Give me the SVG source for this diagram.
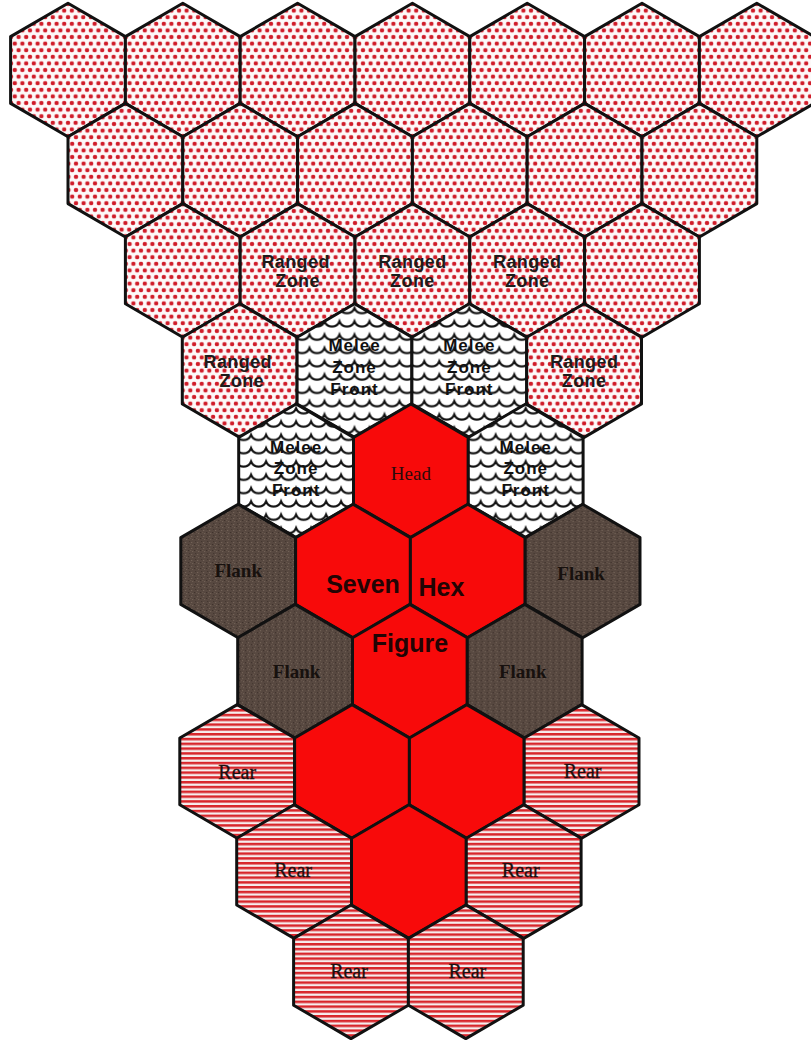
<svg xmlns="http://www.w3.org/2000/svg" xmlns:xlink="http://www.w3.org/1999/xlink" width="811" height="1044" viewBox="0 0 811 1044">
  <defs>
    <path id="hex" d="M0,-66.8 L57.4,-33.4 L57.4,33.4 L0,66.8 L-57.4,33.4 L-57.4,-33.4 Z"/>
    <pattern id="dots" width="7.6" height="13.2" patternUnits="userSpaceOnUse">
      <rect width="7.6" height="13.2" fill="#fdf9f9"/>
      <g fill="#d01d2a">
        <circle cx="0" cy="0" r="2.2"/>
        <circle cx="7.6" cy="0" r="2.2"/>
        <circle cx="0" cy="13.2" r="2.2"/>
        <circle cx="7.6" cy="13.2" r="2.2"/>
        <circle cx="3.8" cy="6.6" r="2.2"/>
      </g>
    </pattern>
    <pattern id="waves" width="15" height="13.3" patternUnits="userSpaceOnUse">
      <rect width="15" height="13.3" fill="#ffffff"/>
      <path d="M-15,4 A8,8 0 0 0 0,4 A8,8 0 0 0 15,4 A8,8 0 0 0 30,4" fill="none" stroke="#111" stroke-width="2.2"/>
    </pattern>
    <pattern id="stripes" width="10" height="4.8" patternUnits="userSpaceOnUse">
      <rect width="10" height="4.8" fill="#f6eeee"/>
      <rect width="10" height="2.5" fill="#d8262b"/>
    </pattern>
    <pattern id="speck" width="6" height="6" patternUnits="userSpaceOnUse">
      <rect width="6" height="6" fill="#574840"/>
      <rect x="1" y="1" width="1" height="1" fill="#7a695d"/>
      <rect x="4" y="3" width="1" height="1" fill="#3a2e28"/>
      <rect x="2" y="4" width="1" height="1" fill="#76665a"/>
      <rect x="5" y="0" width="1" height="1" fill="#40342d"/>
      <rect x="0" y="3" width="1" height="1" fill="#6a5a4f"/>
    </pattern>
  </defs>
  <style>
    .h { stroke: #111; stroke-width: 3; stroke-linejoin: round; }
    .dot { fill: url(#dots); }
    .wav { fill: url(#waves); }
    .str { fill: url(#stripes); }
    .brn { fill: url(#speck); }
    .red { fill: #f80a0a; }
    .rz { font-family: "Liberation Sans", Arial, sans-serif; font-weight: bold; font-size: 18px; fill: #1c1c1c; text-anchor: middle; letter-spacing: 0.4px; }
    .mz { font-family: "Liberation Sans", Arial, sans-serif; font-weight: bold; font-size: 17px; fill: #111; text-anchor: middle; letter-spacing: 1px; }
    .big { font-family: "Liberation Sans", Arial, sans-serif; font-weight: bold; font-size: 25px; fill: #220404; text-anchor: middle; }
    .hd { font-family: "Liberation Serif", "Times New Roman", serif; font-size: 19px; fill: #2b0a0a; text-anchor: middle; }
    .fl { font-family: "Liberation Serif", "Times New Roman", serif; font-weight: bold; font-size: 19px; fill: #17110e; text-anchor: middle; }
    .rr { font-family: "Liberation Serif", "Times New Roman", serif; font-size: 20px; fill: #1a1010; text-anchor: middle; stroke: #1a1010; stroke-width: 0.3; }
  </style>
  <rect width="811" height="1044" fill="#ffffff"/>
  <g id="connectors"></g>

  <!-- Row 0 -->
  <g id="r0c0" transform="translate(68,70)"><use href="#hex" class="h dot"/></g>
  <g id="r0c2" transform="translate(182.8,70)"><use href="#hex" class="h dot"/></g>
  <g id="r0c4" transform="translate(297.6,70)"><use href="#hex" class="h dot"/></g>
  <g id="r0c6" transform="translate(412.4,70)"><use href="#hex" class="h dot"/></g>
  <g id="r0c8" transform="translate(527.2,70)"><use href="#hex" class="h dot"/></g>
  <g id="r0c10" transform="translate(642,70)"><use href="#hex" class="h dot"/></g>
  <g id="r0c12" transform="translate(756.8,70)"><use href="#hex" class="h dot"/></g>

  <!-- Row 1 -->
  <g id="r1c1" transform="translate(125.4,170.2)"><use href="#hex" class="h dot"/></g>
  <g id="r1c3" transform="translate(240.2,170.2)"><use href="#hex" class="h dot"/></g>
  <g id="r1c5" transform="translate(355,170.2)"><use href="#hex" class="h dot"/></g>
  <g id="r1c7" transform="translate(469.8,170.2)"><use href="#hex" class="h dot"/></g>
  <g id="r1c9" transform="translate(584.6,170.2)"><use href="#hex" class="h dot"/></g>
  <g id="r1c11" transform="translate(699.4,170.2)"><use href="#hex" class="h dot"/></g>

  <!-- Row 2 -->
  <g id="r2c2" transform="translate(182.8,270.4)"><use href="#hex" class="h dot"/></g>
  <g id="r2c4" transform="translate(297.6,270.4)"><use href="#hex" class="h dot"/>
    <text class="rz" x="-2" y="-2">Ranged</text><text class="rz" x="0" y="17">Zone</text></g>
  <g id="r2c6" transform="translate(412.4,270.4)"><use href="#hex" class="h dot"/>
    <text class="rz" x="0" y="-2">Ranged</text><text class="rz" x="0" y="17">Zone</text></g>
  <g id="r2c8" transform="translate(527.2,270.4)"><use href="#hex" class="h dot"/>
    <text class="rz" x="0" y="-2">Ranged</text><text class="rz" x="0" y="17">Zone</text></g>
  <g id="r2c10" transform="translate(642,270.4)"><use href="#hex" class="h dot"/></g>

  <!-- Row 3 -->
  <g id="r3c3" transform="translate(239.7,370.6)"><use href="#hex" class="h dot"/>
    <text class="rz" x="-2" y="-3">Ranged</text><text class="rz" x="2" y="16">Zone</text></g>
  <g id="r3c5" transform="translate(354.5,370.6)"><use href="#hex" class="h wav"/>
    <text class="mz" x="0" y="-20">Melee</text><text class="mz" x="0" y="2">Zone</text><text class="mz" x="0" y="24">Front</text></g>
  <g id="r3c7" transform="translate(469.3,370.6)"><use href="#hex" class="h wav"/>
    <text class="mz" x="0" y="-20">Melee</text><text class="mz" x="0" y="2">Zone</text><text class="mz" x="0" y="24">Front</text></g>
  <g id="r3c9" transform="translate(584.1,370.6)"><use href="#hex" class="h dot"/>
    <text class="rz" x="0" y="-3">Ranged</text><text class="rz" x="0" y="16">Zone</text></g>

  <!-- Row 4 -->
  <g id="r4c4" transform="translate(296.1,470.8)"><use href="#hex" class="h wav"/>
    <text class="mz" x="0" y="-18">Melee</text><text class="mz" x="0" y="3">Zone</text><text class="mz" x="0" y="25">Front</text></g>
  <g id="r4c6" transform="translate(410.9,470.8)"><use href="#hex" class="h red"/>
    <text class="hd" x="0" y="9">Head</text></g>
  <g id="r4c8" transform="translate(525.7,470.8)"><use href="#hex" class="h wav"/>
    <text class="mz" x="0" y="-18">Melee</text><text class="mz" x="0" y="3">Zone</text><text class="mz" x="0" y="25">Front</text></g>

  <!-- Row 5 -->
  <g id="r5c3" transform="translate(238.2,571)"><use href="#hex" class="h brn"/>
    <text class="fl" x="0" y="6">Flank</text></g>
  <g id="r5c5" transform="translate(353,571)"><use href="#hex" class="h red"/></g>
  <g id="r5c7" transform="translate(467.8,571)"><use href="#hex" class="h red"/></g>
  <g id="r5c9" transform="translate(582.6,571)"><use href="#hex" class="h brn"/>
    <text class="fl" x="-1.5" y="9">Flank</text></g>

  <!-- Row 6 -->
  <g id="r6c4" transform="translate(295.1,671.2)"><use href="#hex" class="h brn"/>
    <text class="fl" x="1.5" y="7">Flank</text></g>
  <g id="r6c6" transform="translate(409.9,671.2)"><use href="#hex" class="h red"/></g>
  <g id="r6c8" transform="translate(524.7,671.2)"><use href="#hex" class="h brn"/>
    <text class="fl" x="-2" y="7">Flank</text></g>

  <!-- Row 7 -->
  <g id="r7c3" transform="translate(237.2,771.4)"><use href="#hex" class="h str"/>
    <text class="rr" x="0" y="7.5">Rear</text></g>
  <g id="r7c5" transform="translate(352,771.4)"><use href="#hex" class="h red"/></g>
  <g id="r7c7" transform="translate(466.8,771.4)"><use href="#hex" class="h red"/></g>
  <g id="r7c9" transform="translate(581.6,771.4)"><use href="#hex" class="h str"/>
    <text class="rr" x="1" y="6.5">Rear</text></g>

  <!-- Row 8 -->
  <g id="r8c4" transform="translate(294.1,871.6)"><use href="#hex" class="h str"/>
    <text class="rr" x="-1" y="5.5">Rear</text></g>
  <g id="r8c6" transform="translate(408.9,871.6)"><use href="#hex" class="h red"/></g>
  <g id="r8c8" transform="translate(523.7,871.6)"><use href="#hex" class="h str"/>
    <text class="rr" x="-3" y="5.5">Rear</text></g>

  <!-- Row 9 -->
  <g id="r9c5" transform="translate(351,971.8)"><use href="#hex" class="h str"/>
    <text class="rr" x="-2" y="6">Rear</text></g>
  <g id="r9c7" transform="translate(465.8,971.8)"><use href="#hex" class="h str"/>
    <text class="rr" x="1.5" y="6">Rear</text></g>

  <!-- Seven Hex Figure label -->
  <g id="figure-label">
    <text class="big" x="363" y="593">Seven</text>
    <text class="big" x="441.5" y="596">Hex</text>
    <text class="big" x="410" y="652">Figure</text>
  </g>
</svg>
